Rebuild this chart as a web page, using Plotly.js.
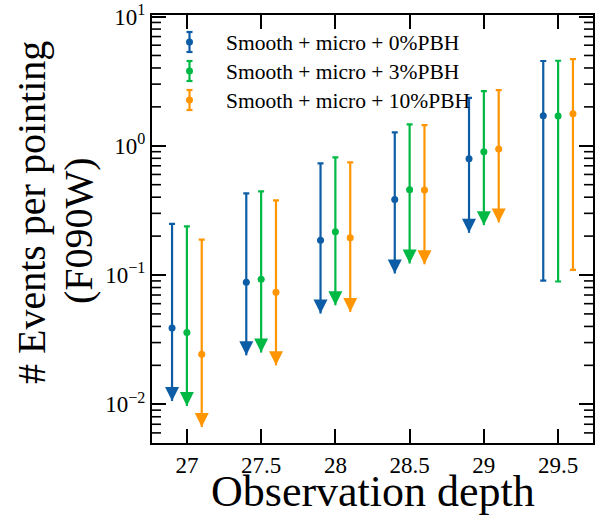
<!DOCTYPE html>
<html>
<head>
<meta charset="utf-8">
<script src="https://cdn.plot.ly/plotly-3.0.1.min.js"></script>
<style>html,body{margin:0;padding:0;background:#fff;}#chart{width:596px;height:521px;}</style>
</head>
<body>
<div id="chart"></div>
<script>
// ---- data ----
const depth = [27, 27.5, 28, 28.5, 29, 29.5];
const depthLabels = ['27', '27.5', '28', '28.5', '29', '29.5'];
const isLimit = [true, true, true, true, true, false];

const seriesNames = ['Smooth + micro + 0%PBH', 'Smooth + micro + 3%PBH', 'Smooth + micro + 10%PBH'];

const pbh0_mid = [0.0389, 0.0880, 0.186, 0.384, 0.793, 1.71];
const pbh0_hi  = [0.249, 0.428, 0.731, 1.27, 2.35, 4.53];
const pbh0_lo  = [0.0106, 0.0239, 0.0503, 0.1027, 0.212, 0.0906];

const pbh3_mid = [0.0359, 0.0927, 0.216, 0.456, 0.899, 1.70];
const pbh3_hi  = [0.2375, 0.443, 0.813, 1.465, 2.65, 4.55];
const pbh3_lo  = [0.0097, 0.0251, 0.0583, 0.1228, 0.243, 0.0891];

const pbh10_mid = [0.0244, 0.0736, 0.194, 0.454, 0.943, 1.77];
const pbh10_hi  = [0.188, 0.378, 0.743, 1.446, 2.70, 4.69];
const pbh10_lo  = [0.00666, 0.0200, 0.0518, 0.121, 0.255, 0.1096];

const yTickVals = [0.01, 0.1, 1, 10];
const yTickText = ['10<sup>−2</sup>', '10<sup>−1</sup>', '10<sup>0</sup>', '10<sup>1</sup>'];

// ---- styling ----
const colors = ['#0C5DA5', '#00B945', '#FF9500'];
const offsets = [-0.1, 0, 0.1];
const FONT = 'Liberation Serif, Times New Roman, serif';
const XRANGE = [26.765, 29.735];
const YRANGE = [-2.30, 1.012];

const traces = [];
function addSeries(k, mid, hi, lo) {
  const color = colors[k];
  const xs = depth.map(d => d + offsets[k]);
  const lx = [], ly = [], ax = [], ay = [];
  for (let i = 0; i < depth.length; i++) {
    if (isLimit[i]) {
      lx.push(xs[i], xs[i], null);
      ly.push(mid[i], lo[i], null);
      ax.push(xs[i]); ay.push(lo[i]);
    }
  }
  traces.push({type: 'scatter', mode: 'lines', x: lx, y: ly, line: {color: color, width: 2.2},
               showlegend: false, hoverinfo: 'skip'});
  traces.push({type: 'scatter', mode: 'markers', name: seriesNames[k], x: xs, y: mid,
               marker: {color: color, size: 7},
               error_y: {type: 'data', symmetric: false,
                         array: hi.map((h, i) => h - mid[i]),
                         arrayminus: mid.map((m, i) => isLimit[i] ? 0 : m - lo[i]),
                         color: color, thickness: 2.2, width: 3},
               showlegend: false});
  traces.push({type: 'scatter', mode: 'markers', x: ax, y: ay,
               marker: {symbol: 'arrow-down', size: 14, color: color, line: {width: 0}},
               showlegend: false, hoverinfo: 'skip'});
}
addSeries(0, pbh0_mid, pbh0_hi, pbh0_lo);
addSeries(1, pbh3_mid, pbh3_hi, pbh3_lo);
addSeries(2, pbh10_mid, pbh10_hi, pbh10_lo);

// ---- geometry of the plot area (px) ----
const L = 152, R = 3, T = 15, B = 78, W = 596, H = 521;
const pw = W - L - R, ph = H - T - B;
const PX = p => (p - L) / pw;
const PY = p => (H - B - p) / ph;

const shapes = [], annotations = [];

// minor log ticks (2..9 in each decade), inside on both sides of the frame
const minorVals = [];
for (let d = -3; d <= 0; d++) for (let m = 2; m <= 9; m++) minorVals.push(m * Math.pow(10, d));
minorVals.forEach(v => {
  const f = (Math.log10(v) - YRANGE[0]) / (YRANGE[1] - YRANGE[0]);
  if (f < 0 || f > 1) return;
  const tk = {type: 'line', xref: 'paper', yref: 'paper', y0: f, y1: f, line: {color: '#000', width: 1.6}};
  shapes.push(Object.assign({}, tk, {x0: 0, x1: 9 / pw}));
  shapes.push(Object.assign({}, tk, {x0: 1 - 9 / pw, x1: 1}));
});

// ---- hand-built legend (errorbar glyphs) ----
const legY = [42, 71, 100], legX = 189.5;
for (let k = 0; k < 3; k++) {
  const c = colors[k], y = legY[k];
  const ln = {type: 'line', xref: 'paper', yref: 'paper', line: {color: c, width: 2.2}};
  shapes.push(Object.assign({}, ln, {x0: PX(legX), x1: PX(legX), y0: PY(y - 10), y1: PY(y + 10)}));
  shapes.push(Object.assign({}, ln, {x0: PX(legX - 3), x1: PX(legX + 3), y0: PY(y - 10), y1: PY(y - 10)}));
  shapes.push(Object.assign({}, ln, {x0: PX(legX - 3), x1: PX(legX + 3), y0: PY(y + 10), y1: PY(y + 10)}));
  shapes.push({type: 'circle', xref: 'paper', yref: 'paper', fillcolor: c, line: {width: 0},
               x0: PX(legX - 3.5), x1: PX(legX + 3.5), y0: PY(y + 3.5), y1: PY(y - 3.5)});
  annotations.push({xref: 'paper', yref: 'paper', x: PX(224), y: PY(y + 1), xanchor: 'left', yanchor: 'middle',
                    text: seriesNames[k], showarrow: false, font: {family: FONT, size: 21.5, color: '#000'}});
}
// y-axis title (two lines as in the reference)
annotations.push({xref: 'paper', yref: 'paper', x: PX(31), y: PY(213), xanchor: 'center', yanchor: 'middle',
                  textangle: -90, text: '# Events per pointing', showarrow: false,
                  font: {family: FONT, size: 40, color: '#000'}});
annotations.push({xref: 'paper', yref: 'paper', x: PX(78), y: PY(231), xanchor: 'center', yanchor: 'middle',
                  textangle: -90, text: '(F090W)', showarrow: false,
                  font: {family: FONT, size: 40, color: '#000'}});
// x-axis title
annotations.push({xref: 'paper', yref: 'paper', x: PX(372.5), y: PY(491), xanchor: 'center', yanchor: 'middle',
                  text: 'Observation depth', showarrow: false,
                  font: {family: FONT, size: 44, color: '#000'}});

const layout = {
  width: W, height: H,
  margin: {l: L, r: R, t: T, b: B, pad: 0},
  paper_bgcolor: '#fff', plot_bgcolor: '#fff',
  font: {family: FONT, color: '#000'},
  showlegend: false,
  xaxis: {
    range: XRANGE, tickvals: depth, ticktext: depthLabels,
    ticks: 'inside', ticklen: 14, tickwidth: 2, tickcolor: '#000',
    showline: true, linecolor: '#000', linewidth: 2, mirror: 'ticks',
    showgrid: false, zeroline: false,
    tickfont: {family: FONT, size: 23, color: '#000'},
    automargin: false
  },
  yaxis: {
    type: 'log', range: YRANGE,
    tickvals: yTickVals, ticktext: yTickText,
    ticks: 'inside', ticklen: 14, tickwidth: 2, tickcolor: '#000',
    showline: true, linecolor: '#000', linewidth: 2, mirror: 'ticks',
    showgrid: false, zeroline: false,
    tickfont: {family: FONT, size: 23, color: '#000'},
    automargin: false
  },
  shapes: shapes,
  annotations: annotations
};

Plotly.newPlot('chart', traces, layout, {displayModeBar: false, staticPlot: true});
</script>
</body>
</html>
